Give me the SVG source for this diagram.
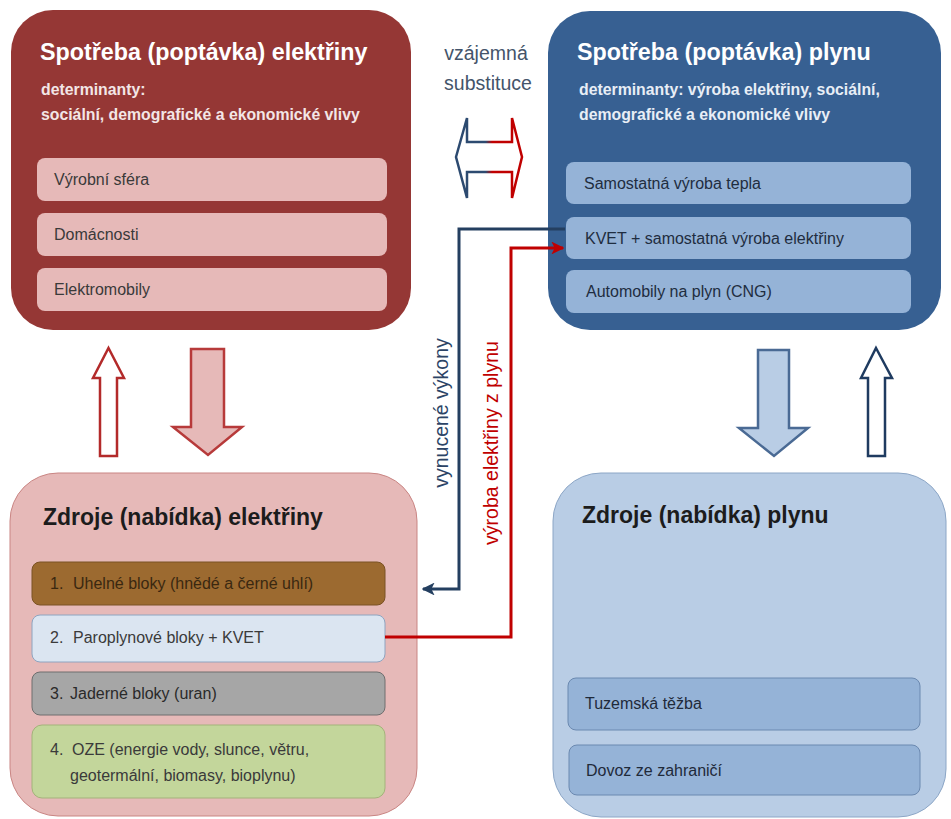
<svg xmlns="http://www.w3.org/2000/svg" width="951" height="819" viewBox="0 0 951 819">
<defs>
<style>
text{font-family:"Liberation Sans",Arial,sans-serif}
.title{font-size:23.3px;font-weight:bold}
.det{font-size:15.8px;font-weight:bold;fill:#f3e6e6}
.item{font-size:16px;fill:#3a3a3a}
.side{font-size:19.5px}
.conn{fill:none;stroke-width:3;stroke-linejoin:miter}
</style>
<linearGradient id="sub" x1="0" y1="0" x2="1" y2="0">
<stop offset="0" stop-color="#2c4a70"/>
<stop offset="0.45" stop-color="#2c4a70"/>
<stop offset="0.55" stop-color="#c00000"/>
<stop offset="1" stop-color="#c00000"/>
</linearGradient>
<marker id="ab" viewBox="0 0 10 10" refX="9" refY="5" markerWidth="4.3" markerHeight="4.3" orient="auto" markerUnits="strokeWidth">
<path d="M0,0 L10,5 L0,10 L2.5,5 Z" fill="#243f60"/>
</marker>
<marker id="ar" viewBox="0 0 10 10" refX="9" refY="5" markerWidth="4.3" markerHeight="4.3" orient="auto" markerUnits="strokeWidth">
<path d="M0,0 L10,5 L0,10 L2.5,5 Z" fill="#c00000"/>
</marker>
</defs>
<rect width="951" height="819" fill="#ffffff"/>

<g id="el-demand">
<rect x="11" y="10" width="400" height="320" rx="42" fill="#953735"/>
<text class="title" x="40" y="60" fill="#ffffff">Spotřeba (poptávka) elektřiny</text>
<text class="det" x="41" y="95">determinanty:</text>
<text class="det" x="41" y="120">sociální, demografické a ekonomické vlivy</text>
<rect x="37" y="158" width="350" height="43" rx="8" fill="#e6b9b8"/>
<text class="item" x="54" y="185">Výrobní sféra</text>
<rect x="37" y="213" width="350" height="43" rx="8" fill="#e6b9b8"/>
<text class="item" x="54" y="240">Domácnosti</text>
<rect x="37" y="268" width="350" height="43" rx="8" fill="#e6b9b8"/>
<text class="item" x="54" y="295">Elektromobily</text>
</g>

<g id="gas-demand">
<rect x="548" y="11" width="393" height="319" rx="42" fill="#376092"/>
<text class="title" x="577" y="60" fill="#ffffff">Spotřeba (poptávka) plynu</text>
<text class="det" x="579" y="95" style="fill:#e8eef6">determinanty: výroba elektřiny, sociální,</text>
<text class="det" x="579" y="120" style="fill:#e8eef6">demografické a ekonomické vlivy</text>
<rect x="566" y="162" width="345" height="42" rx="8" fill="#95b3d7"/>
<text class="item" x="584" y="189" style="fill:#1f2d40">Samostatná výroba tepla</text>
<rect x="566" y="217" width="345" height="42" rx="8" fill="#95b3d7"/>
<text class="item" x="585" y="244" style="fill:#1f2d40">KVET + samostatná výroba elektřiny</text>
<rect x="566" y="270" width="345" height="43" rx="8" fill="#95b3d7"/>
<text class="item" x="586" y="297" style="fill:#1f2d40">Automobily na plyn (CNG)</text>
</g>

<g id="substitution">
<text class="side" x="486" y="60" text-anchor="middle" fill="#44546a">vzájemná</text>
<text class="side" x="488" y="90" text-anchor="middle" fill="#44546a">substituce</text>
<path d="M456,157 L467,118 L467,142 L512,142 L512,118 L522,157 L512,198 L512,172 L467,172 L467,198 Z" fill="#ffffff" stroke="url(#sub)" stroke-width="2.5"/>
</g>

<g id="el-supply">
<rect x="10" y="473" width="407" height="343" rx="48" fill="#e6b9b8" stroke="#c98583" stroke-width="1"/>
<text class="title" x="43" y="525" fill="#1c1c1c" style="font-size:23px">Zdroje (nabídka) elektřiny</text>
<rect x="32" y="562" width="353" height="43" rx="8" fill="#9c6a30" stroke="#7a5224" stroke-width="1"/>
<text class="item" x="50" y="589" style="fill:#3a2810"><tspan>1.</tspan><tspan x="73">Uhelné bloky (hnědé  a černé uhlí)</tspan></text>
<rect x="32" y="615" width="353" height="47" rx="8" fill="#dbe5f1" stroke="#8ea4c0" stroke-width="1"/>
<text class="item" x="50" y="643"><tspan>2.</tspan><tspan x="73">Paroplynové bloky + KVET</tspan></text>
<rect x="32" y="672" width="353" height="43" rx="8" fill="#a6a6a6" stroke="#6e6e6e" stroke-width="1"/>
<text class="item" x="50" y="699" style="fill:#2a2a2a"><tspan>3.</tspan><tspan x="70">Jaderné bloky (uran)</tspan></text>
<rect x="32" y="725" width="353" height="73" rx="10" fill="#c3d69b" stroke="#a3b37a" stroke-width="1"/>
<text class="item" x="50" y="755"><tspan>4.</tspan><tspan x="72">OZE (energie vody, slunce, větru,</tspan></text>
<text class="item" x="70" y="781">geotermální, biomasy, bioplynu)</text>
</g>

<g id="gas-supply">
<rect x="553" y="473" width="393" height="344" rx="48" fill="#b9cde5" stroke="#8ca6c6" stroke-width="1"/>
<text class="title" x="582" y="523" fill="#1c1c1c" style="font-size:23px">Zdroje (nabídka) plynu</text>
<rect x="568" y="678" width="352" height="52" rx="8" fill="#95b3d7" stroke="#6b89b0" stroke-width="1"/>
<text class="item" x="585" y="709" style="fill:#1f2a3a">Tuzemská těžba</text>
<rect x="569" y="745" width="351" height="50" rx="8" fill="#95b3d7" stroke="#6b89b0" stroke-width="1"/>
<text class="item" x="586" y="776" style="fill:#1f2a3a">Dovoz ze zahraničí</text>
</g>

<g id="vertical-arrows">
<path d="M108.5,348 L124,378 L117,378 L117,456 L100,456 L100,378 L93,378 Z" fill="#ffffff" stroke="#b32a2a" stroke-width="2.5" stroke-linejoin="miter"/>
<path d="M191,349 L224,349 L224,427 L242,427 L208,455 L173,427 L191,427 Z" fill="#e6b9b8" stroke="#b73a3a" stroke-width="2.5" stroke-linejoin="miter"/>
<path d="M758,350 L789,350 L789,428 L808,428 L774,456 L739,428 L758,428 Z" fill="#b9cde5" stroke="#4a6a94" stroke-width="2.5" stroke-linejoin="miter"/>
<path d="M876,348 L892,378 L885,378 L885,456 L868,456 L868,378 L861,378 Z" fill="#ffffff" stroke="#1f3b60" stroke-width="2.5" stroke-linejoin="miter"/>
</g>

<g id="connectors">
<path class="conn" d="M565,229 H459 V589 H423" stroke="#243f60" marker-end="url(#ab)"/>
<path class="conn" d="M385,637 H511 V248 H563" stroke="#c00000" marker-end="url(#ar)"/>
<text class="side" transform="translate(448,413) rotate(-90)" text-anchor="middle" fill="#2c4466">vynucené výkony</text>
<text class="side" transform="translate(498,443) rotate(-90)" text-anchor="middle" fill="#c00000">výroba elektřiny z plynu</text>
</g>
</svg>
